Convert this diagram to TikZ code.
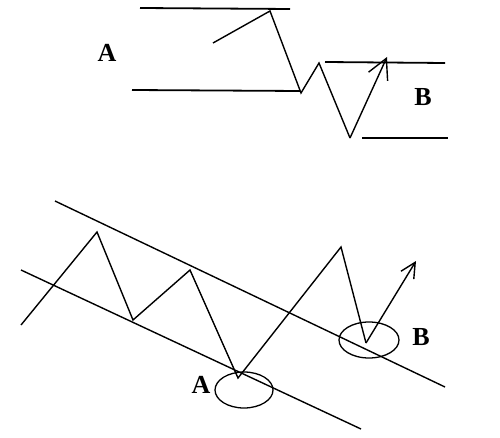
\documentclass[tikz,border=0pt]{standalone}
\usepackage{fontspec}
\setmainfont{Liberation Serif}
\usetikzlibrary{arrows.meta}

\begin{document}
\begin{tikzpicture}[
    x=1pt, y=-1pt,
    level/.style={line width=1.8pt},
    wave/.style={line width=1.4pt, line join=miter},
    chan/.style={line width=1.4pt},
    zone/.style={line width=1.3pt},
    lbl/.style={font=\fontsize{26}{26}\selectfont\bfseries, inner sep=0pt},
    bigarr/.style={-{Straight Barb[length=20pt, width=21pt, line width=1.4pt]}},
    smallarr/.style={-{Straight Barb[length=15pt, width=15pt, line width=1.4pt]}},
]
\useasboundingbox (0,0) rectangle (500,438);

% top: range A, then range B below it
\draw[level] (140,8) -- (290,9);
\draw[level] (132,90) -- (300,91);
\draw[level] (325,62) -- (445,63);
\draw[level] (362,138) -- (448,138);
\node[lbl] (rangeA) at (107,53) {A};
\node[lbl] (rangeB) at (423,97) {B};

\coordinate (t0) at (213,43);
\coordinate (t1) at (270,11);
\coordinate (t2) at (301,93);
\coordinate (t3) at (319,63);
\coordinate (t4) at (350,138);
\coordinate (t5) at (387,57);
\draw[wave] (t0) -- (t1) -- (t2) -- (t3) -- (t4);
\draw[wave, bigarr] (t4) -- (t5);

% bottom: falling channel
\draw[chan] (55,201) -- (445,387);
\draw[chan] (21,270) -- (361,429);

\coordinate (b0) at (21,325);
\coordinate (b1) at (97,232);
\coordinate (b2) at (133,320);
\coordinate (b3) at (190,270);
\coordinate (b4) at (238,378);
\coordinate (b5) at (341,247);
\coordinate (b6) at (366,343);
\coordinate (b7) at (416,261);
\draw[wave] (b0) -- (b1) -- (b2) -- (b3) -- (b4) -- (b5) -- (b6);
\draw[wave, smallarr] (b6) -- (b7);

\draw[zone] (244,390) ellipse [x radius=29, y radius=18];
\draw[zone] (369,340) ellipse [x radius=30, y radius=18];
\node[lbl] (touchA) at (201,385) {A};
\node[lbl] (touchB) at (421,337) {B};
\end{tikzpicture}
\end{document}
